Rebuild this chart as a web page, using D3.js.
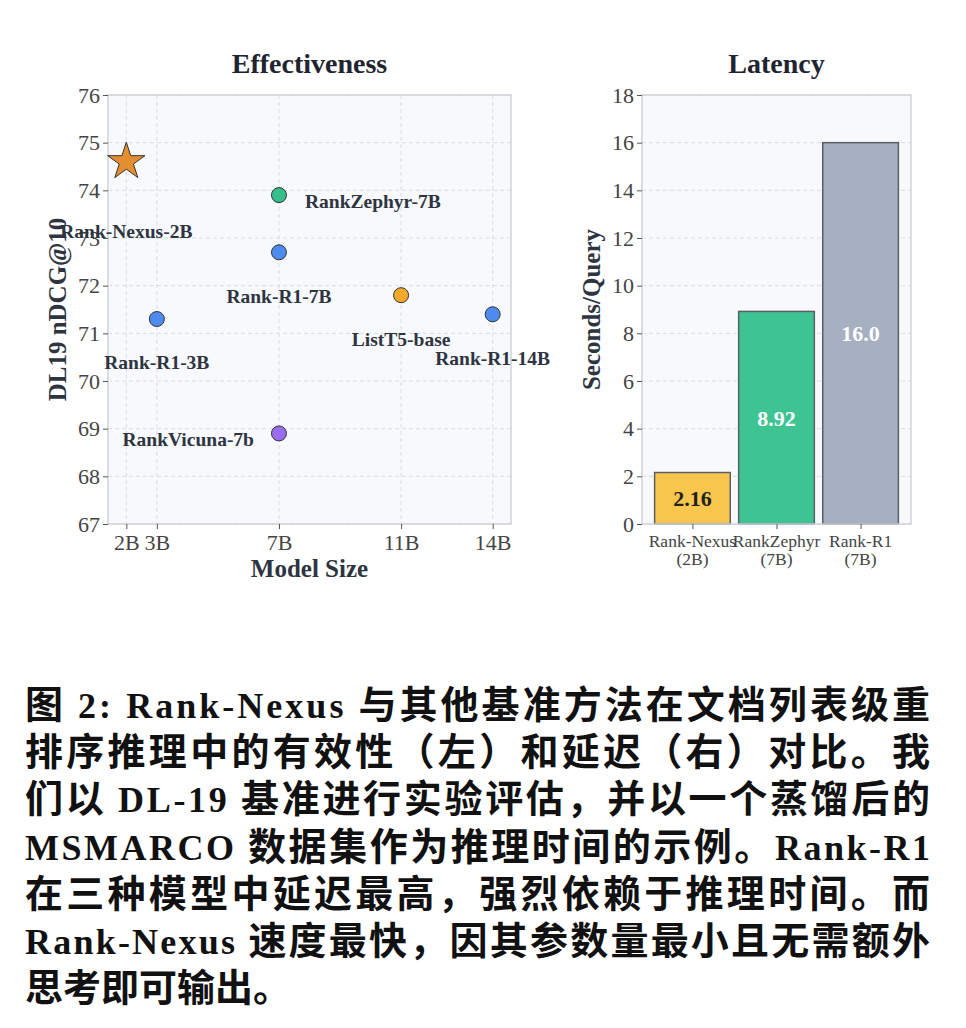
<!DOCTYPE html>
<html>
<head>
<meta charset="utf-8">
<script src="https://cdn.jsdelivr.net/npm/d3@7"></script>
<style>
  body { margin: 0; background: #fff; }
  svg text { font-family: "Liberation Serif", "Noto Sans CJK SC", serif; }
</style>
</head>
<body>
<svg id="canvas" width="966" height="1028"></svg>
<script>
// effectiveness data
let modelNames = ['Rank-Nexus-2B', 'RankZephyr-7B', 'Rank-R1-7B', 'ListT5-base', 'Rank-R1-14B', 'Rank-R1-3B', 'RankVicuna-7b']
let modelSizes = [2, 7, 7, 11, 14, 3, 7]
let ndcgScores = [74.6, 73.9, 72.7, 71.8, 71.4, 71.3, 68.9]
let pointColors = ['#e38f2f', '#36bf8c', '#4d8bef', '#f6a92a', '#4d8bef', '#4d8bef', '#9a6cf0']
let sizeTicks = [2, 3, 7, 11, 14]
let sizeTickLabels = ['2B', '3B', '7B', '11B', '14B']
let ndcgTicks = [67, 68, 69, 70, 71, 72, 73, 74, 75, 76]

// latency data
let latencyModels = [['Rank-Nexus', '(2B)'], ['RankZephyr', '(7B)'], ['Rank-R1', '(7B)']]
let latencyValues = [2.16, 8.92, 16.0]
let latencyLabels = ['2.16', '8.92', '16.0']
let barColors = ['#f8c64c', '#3ec493', '#a6b0c0']
let latencyTicks = [0, 2, 4, 6, 8, 10, 12, 14, 16, 18]

let captionLines = [
    '图 2: Rank-Nexus 与其他基准方法在文档列表级重',
    '排序推理中的有效性（左）和延迟（右）对比。我',
    '们以 DL-19 基准进行实验评估，并以一个蒸馏后的',
    'MSMARCO 数据集作为推理时间的示例。Rank-R1',
    '在三种模型中延迟最高，强烈依赖于推理时间。而',
    'Rank-Nexus 速度最快，因其参数量最小且无需额外',
    '思考即可输出。'
]

let svg = d3.select('#canvas')
let textColor = '#2e3440'
let tickColor = '#444'

// label placement: [dx, dy, anchor]
let labelPlace = [[0, 76, 'middle'], [26, 13, 'start'], [0, 51, 'middle'], [0, 51, 'middle'],
                  [0, 51, 'middle'], [0, 50, 'middle'], [-25, 13, 'end']]

let styleAxis = (a) => {
    a.select('.domain').remove()
    a.selectAll('line').attr('stroke', '#555')
    a.selectAll('text').attr('font-size', 22).attr('fill', tickColor)
     .style('font-family', '"Liberation Serif", serif')
}

let drawScatter = () => {
    let left = 108, right = 511, top = 95, bottom = 524
    let x = d3.scaleLinear().domain([1.4, 14.6]).range([left, right])
    let y = d3.scaleLinear().domain([67, 76]).range([bottom, top])
    let g = svg.append('g')

    g.append('rect').attr('x', left).attr('y', top).attr('width', right - left).attr('height', bottom - top)
     .attr('fill', '#f7f9fc')

    // grid
    g.selectAll('.vgrid').data(sizeTicks).enter().append('line')
     .attr('x1', d => x(d)).attr('x2', d => x(d)).attr('y1', top).attr('y2', bottom)
     .attr('stroke', '#d6d9e0').attr('stroke-dasharray', '4,3').attr('stroke-width', 0.9)
    g.selectAll('.hgrid').data(ndcgTicks).enter().append('line')
     .attr('x1', left).attr('x2', right).attr('y1', d => y(d)).attr('y2', d => y(d))
     .attr('stroke', '#d6d9e0').attr('stroke-dasharray', '4,3').attr('stroke-width', 0.9)

    g.append('rect').attr('x', left).attr('y', top).attr('width', right - left).attr('height', bottom - top)
     .attr('fill', 'none').attr('stroke', '#cfd2d8').attr('stroke-width', 1.5)

    let xAxis = g.append('g').attr('transform', `translate(0,${bottom})`)
     .call(d3.axisBottom(x).tickValues(sizeTicks).tickFormat((d, i) => sizeTickLabels[i]).tickSize(5).tickPadding(5))
    let yAxis = g.append('g').attr('transform', `translate(${left},0)`)
     .call(d3.axisLeft(y).tickValues(ndcgTicks).tickSize(5).tickPadding(3))
    styleAxis(xAxis)
    styleAxis(yAxis)

    // points
    modelNames.forEach((name, i) => {
        let px = x(modelSizes[i]), py = y(ndcgScores[i])
        if (i === 0) {
            g.append('path').attr('d', d3.symbol(d3.symbolStar, 430)())
             .attr('transform', `translate(${px},${py})`)
             .attr('fill', pointColors[i]).attr('stroke', '#333').attr('stroke-width', 1)
        } else {
            g.append('circle').attr('cx', px).attr('cy', py).attr('r', 7.5)
             .attr('fill', pointColors[i]).attr('stroke', '#333').attr('stroke-width', 1)
        }
        let p = labelPlace[i]
        g.append('text').attr('x', px + p[0]).attr('y', py + p[1]).attr('text-anchor', p[2])
         .attr('font-size', 19.5).attr('font-weight', 'bold').attr('fill', textColor).text(name)
    })

    svg.append('text').attr('x', (left + right) / 2).attr('y', 73).attr('text-anchor', 'middle')
       .attr('font-size', 28).attr('font-weight', 'bold').attr('fill', '#1f2430').text('Effectiveness')
    svg.append('text').attr('x', (left + right) / 2).attr('y', 577).attr('text-anchor', 'middle')
       .attr('font-size', 25).attr('font-weight', 'bold').attr('fill', textColor).text('Model Size')
    svg.append('text').attr('transform', `translate(66,${(top + bottom) / 2}) rotate(-90)`)
       .attr('text-anchor', 'middle').attr('font-size', 25).attr('font-weight', 'bold')
       .attr('fill', textColor).text('DL19 nDCG@10')
}

let drawBars = () => {
    let left = 642, right = 911, top = 95, bottom = 524
    let x = d3.scaleLinear().domain([-0.6, 2.6]).range([left, right])
    let y = d3.scaleLinear().domain([0, 18]).range([bottom, top])
    let g = svg.append('g')

    g.append('rect').attr('x', left).attr('y', top).attr('width', right - left).attr('height', bottom - top)
     .attr('fill', '#f7f9fc')
    g.selectAll('.hgrid').data(latencyTicks).enter().append('line')
     .attr('x1', left).attr('x2', right).attr('y1', d => y(d)).attr('y2', d => y(d))
     .attr('stroke', '#d6d9e0').attr('stroke-dasharray', '4,3').attr('stroke-width', 0.9)

    g.selectAll('.bar').data(latencyValues).enter().append('rect')
     .attr('x', (d, i) => x(i - 0.45)).attr('width', x(0.45) - x(-0.45))
     .attr('y', d => y(d)).attr('height', d => bottom - y(d))
     .attr('fill', (d, i) => barColors[i]).attr('stroke', '#5a5f66').attr('stroke-width', 1.5)

    g.selectAll('.val').data(latencyValues).enter().append('text')
     .attr('x', (d, i) => x(i)).attr('y', d => (y(d) + bottom) / 2 + 8)
     .attr('text-anchor', 'middle').attr('font-size', 22).attr('font-weight', 'bold')
     .attr('fill', (d, i) => i === 0 ? '#222' : '#fff').text((d, i) => latencyLabels[i])

    g.append('rect').attr('x', left).attr('y', top).attr('width', right - left).attr('height', bottom - top)
     .attr('fill', 'none').attr('stroke', '#cfd2d8').attr('stroke-width', 1.5)

    let yAxis = g.append('g').attr('transform', `translate(${left},0)`)
     .call(d3.axisLeft(y).tickValues(latencyTicks).tickSize(5).tickPadding(3))
    styleAxis(yAxis)

    let xAxis = g.append('g').attr('transform', `translate(0,${bottom})`)
     .call(d3.axisBottom(x).tickValues([0, 1, 2]).tickFormat('').tickSize(5))
    styleAxis(xAxis)
    latencyModels.forEach((lines, i) => {
        lines.forEach((t, j) => {
            g.append('text').attr('x', x(i)).attr('y', bottom + 23 + j * 18).attr('text-anchor', 'middle')
             .attr('font-size', 17.5).attr('fill', tickColor).text(t)
        })
    })

    svg.append('text').attr('x', (left + right) / 2).attr('y', 73).attr('text-anchor', 'middle')
       .attr('font-size', 28).attr('font-weight', 'bold').attr('fill', '#1f2430').text('Latency')
    svg.append('text').attr('transform', `translate(600,${(top + bottom) / 2}) rotate(-90)`)
       .attr('text-anchor', 'middle').attr('font-size', 25).attr('font-weight', 'bold')
       .attr('fill', textColor).text('Seconds/Query')
}

let drawCaption = () => {
    captionLines.forEach((line, i) => {
        let t = svg.append('text').attr('x', 25).attr('y', 718 + i * 47.2)
           .attr('font-weight', 'bold').attr('fill', '#111')
        // CJK runs a bit larger than latin runs
        let runs = line.match(/[\u3000-\u9fff\uff00-\uffef]+|[^\u3000-\u9fff\uff00-\uffef]+/g)
        runs.forEach(r => {
            let cjk = /[\u3000-\u9fff\uff00-\uffef]/.test(r)
            t.append('tspan').attr('font-size', cjk ? 38 : 36)
             .style('font-family', cjk ? '"Noto Sans CJK SC", sans-serif' : '"Liberation Serif", serif')
             .text(r)
        })
        if (i < captionLines.length - 1) {
            t.attr('textLength', 905).attr('lengthAdjust', 'spacing')
        }
    })
}

drawScatter()
drawBars()
drawCaption()
</script>
</body>
</html>
